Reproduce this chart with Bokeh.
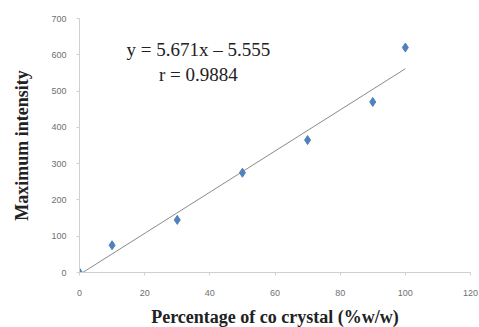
import numpy as np
from bokeh.plotting import figure
from bokeh.models import Range1d, FixedTicker, Label
from bokeh.embed import file_html
from bokeh.resources import INLINE

# Data
percent = [0, 10, 30, 50, 70, 90, 100]
intensity = [0, 75, 145, 275, 365, 470, 620]
slope = 5.671
intercept = -5.555
fit_x = [0, 100]
x_ticks = [0, 20, 40, 60, 80, 100, 120]
y_ticks = [0, 100, 200, 300, 400, 500, 600, 700]
eq_text = "y = 5.671x \u2013 5.555"
r_text = "r = 0.9884"

p = figure(frame_width=391, frame_height=254, width=478, height=326,
           min_border_left=79, min_border_right=8, min_border_top=18, min_border_bottom=54,
           output_backend="svg", toolbar_location=None,
           x_range=Range1d(0, 120), y_range=Range1d(0, 700))
p.outline_line_color = None
p.grid.grid_line_color = None

fx = np.array(fit_x, dtype=float)
p.line(fx, slope * fx + intercept, line_color="#8a8a8a", line_width=1)
p.scatter(percent, intensity, marker="diamond", size=9, fill_color="#4F81BD",
          line_color="#4F81BD")

for ax in (p.xaxis[0], p.yaxis[0]):
    ax.axis_line_color = "#d0d0d0"
    ax.major_tick_line_color = "#d0d0d0"
    ax.major_tick_out = 3
    ax.major_tick_in = 0
    ax.minor_tick_line_color = None
    ax.major_label_text_font = "Liberation Sans"
    ax.major_label_text_font_size = "9px"
    ax.major_label_text_color = "#707070"
    ax.axis_label_text_font = "Liberation Serif"
    ax.axis_label_text_font_style = "bold"
    ax.axis_label_text_font_size = "18px"
    ax.axis_label_text_color = "#222222"

p.xaxis.ticker = FixedTicker(ticks=x_ticks)
p.yaxis.ticker = FixedTicker(ticks=y_ticks)
p.xaxis.axis_label = "Percentage of co crystal (%w/w)"
p.yaxis.axis_label = "Maximum intensity"
p.xaxis.major_label_standoff = 14
p.xaxis.axis_label_standoff = 8
p.yaxis.major_label_standoff = 10
p.yaxis.axis_label_standoff = 16

p.add_layout(Label(x=36.5, y=614, text=eq_text, text_align="center", text_baseline="middle",
                   text_font="Liberation Serif", text_font_size="19px", text_color="#222222"))
p.add_layout(Label(x=36.5, y=545, text=r_text, text_align="center", text_baseline="middle",
                   text_font="Liberation Serif", text_font_size="19px", text_color="#222222"))

open("out.html", "w").write(file_html(p, INLINE))
